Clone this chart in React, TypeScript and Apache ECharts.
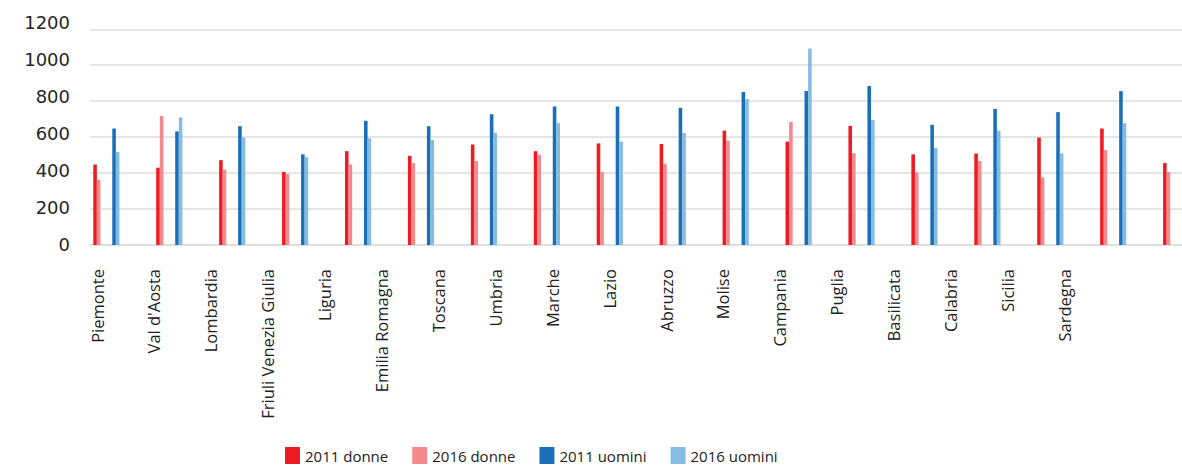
import React, { useEffect, useRef } from "react";
import * as echarts from "echarts";

// Regioni (asse delle categorie)
const regions = [
  "Piemonte",
  "Val d'Aosta",
  "Lombardia",
  "Friuli Venezia Giulia",
  "Liguria",
  "Emilia Romagna",
  "Toscana",
  "Umbria",
  "Marche",
  "Lazio",
  "Abruzzo",
  "Molise",
  "Campania",
  "Puglia",
  "Basilicata",
  "Calabria",
  "Sicilia",
  "Sardegna",
];

const donne2011 = [448, 430, 472, 407, 522, 496, 559, 522, 565, 562, 636, 575, 663, 504, 509, 598, 648, 456];
const donne2016 = [363, 717, 419, 394, 448, 456, 467, 502, 406, 452, 580, 685, 511, 404, 467, 376, 528, 406];
const uomini2011 = [648, 632, 661, 504, 691, 661, 728, 770, 770, 763, 851, 857, 885, 669, 757, 739, 856, 654];
const uomini2016 = [517, 709, 598, 489, 594, 585, 624, 678, 576, 623, 812, 1093, 696, 539, 635, 509, 678, 600];

const seriesNames = ["2011 donne", "2016 donne", "2011 uomini", "2016 uomini"];
const seriesColors = ["#ED1C24", "#F28B8E", "#1B6FB7", "#86BCE1"];

const yMin = 0;
const yMax = 1200;
const yStep = 200;

export default function App() {
  const ref = useRef<HTMLDivElement>(null);

  useEffect(() => {
    if (!ref.current) return;
    const chart = echarts.init(ref.current, null, { renderer: "svg" });

    const plotTop = 29.3;
    const plotHeight = 215.7;
    const barBand = 62.93;
    const labelBand = 56.9;
    const n = regions.length;

    const gridBase = { outerBoundsMode: "none", containLabel: false };

    const hiddenX = (gridIndex: number) => ({
      type: "category",
      gridIndex,
      data: regions,
      show: false,
    });
    const hiddenY = (gridIndex: number) => ({
      type: "value",
      gridIndex,
      min: yMin,
      max: yMax,
      interval: yStep,
      show: false,
    });

    const barSeries = (i: number, values: number[], axis: number) => ({
      type: "bar",
      name: seriesNames[i],
      data: values,
      xAxisIndex: axis,
      yAxisIndex: axis,
      barWidth: 3.6,
      barGap: "0%",
      itemStyle: { color: seriesColors[i] },
    });

    chart.setOption({
      animation: false,
      backgroundColor: "#ffffff",
      grid: [
        // griglia orizzontale
        { ...gridBase, left: 90, top: plotTop, width: 1150, height: plotHeight },
        // barre donne
        { ...gridBase, left: 65.4, top: plotTop, width: barBand * n, height: plotHeight },
        // barre uomini
        { ...gridBase, left: 84.4, top: plotTop, width: barBand * n, height: plotHeight },
        // etichette regioni
        { ...gridBase, left: 68.55, top: plotTop, width: labelBand * n, height: plotHeight },
        // etichette asse valori
        { ...gridBase, left: 90, top: 22.5, width: 100, height: 221.5 },
      ],
      xAxis: [
        {
          type: "category",
          gridIndex: 0,
          data: regions,
          axisLine: { show: true, lineStyle: { color: "#dcdcdc", width: 1.5 } },
          axisTick: { show: false },
          axisLabel: { show: false },
        },
        hiddenX(1),
        hiddenX(2),
        {
          type: "category",
          gridIndex: 3,
          data: regions,
          axisLine: { show: false },
          axisTick: { show: false },
          axisLabel: {
            interval: 0,
            rotate: 90,
            margin: 24,
            fontSize: 16.5,
            fontFamily: "Open Sans",
            color: "#222222",
          },
        },
        hiddenX(4),
      ],
      yAxis: [
        {
          type: "value",
          gridIndex: 0,
          min: yMin,
          max: yMax,
          interval: yStep,
          axisLine: { show: false },
          axisTick: { show: false },
          axisLabel: { show: false },
          splitLine: { show: true, lineStyle: { color: "#dcdcdc", width: 1.5 } },
        },
        hiddenY(1),
        hiddenY(2),
        hiddenY(3),
        {
          type: "value",
          gridIndex: 4,
          min: yMin,
          max: yMax,
          interval: yStep,
          axisLine: { show: false },
          axisTick: { show: false },
          splitLine: { show: false },
          axisLabel: {
            margin: 20,
            fontSize: 18,
            fontFamily: "DejaVu Sans",
            color: "#262626",
            formatter: (v: number) => String(v),
          },
        },
      ],
      legend: {
        data: seriesNames,
        left: 280,
        top: 442,
        icon: "rect",
        itemWidth: 15,
        itemHeight: 17,
        itemGap: 24,
        textStyle: { fontSize: 15, fontFamily: "Open Sans", color: "#222222" },
      },
      series: [
        barSeries(0, donne2011, 1),
        barSeries(1, donne2016, 1),
        barSeries(2, uomini2011, 2),
        barSeries(3, uomini2016, 2),
      ],
    });

    return () => chart.dispose();
  }, []);

  return (
    <div
      ref={ref}
      style={{ position: "fixed", left: 0, top: 0, width: 1182, height: 465, background: "#fff" }}
    />
  );
}
